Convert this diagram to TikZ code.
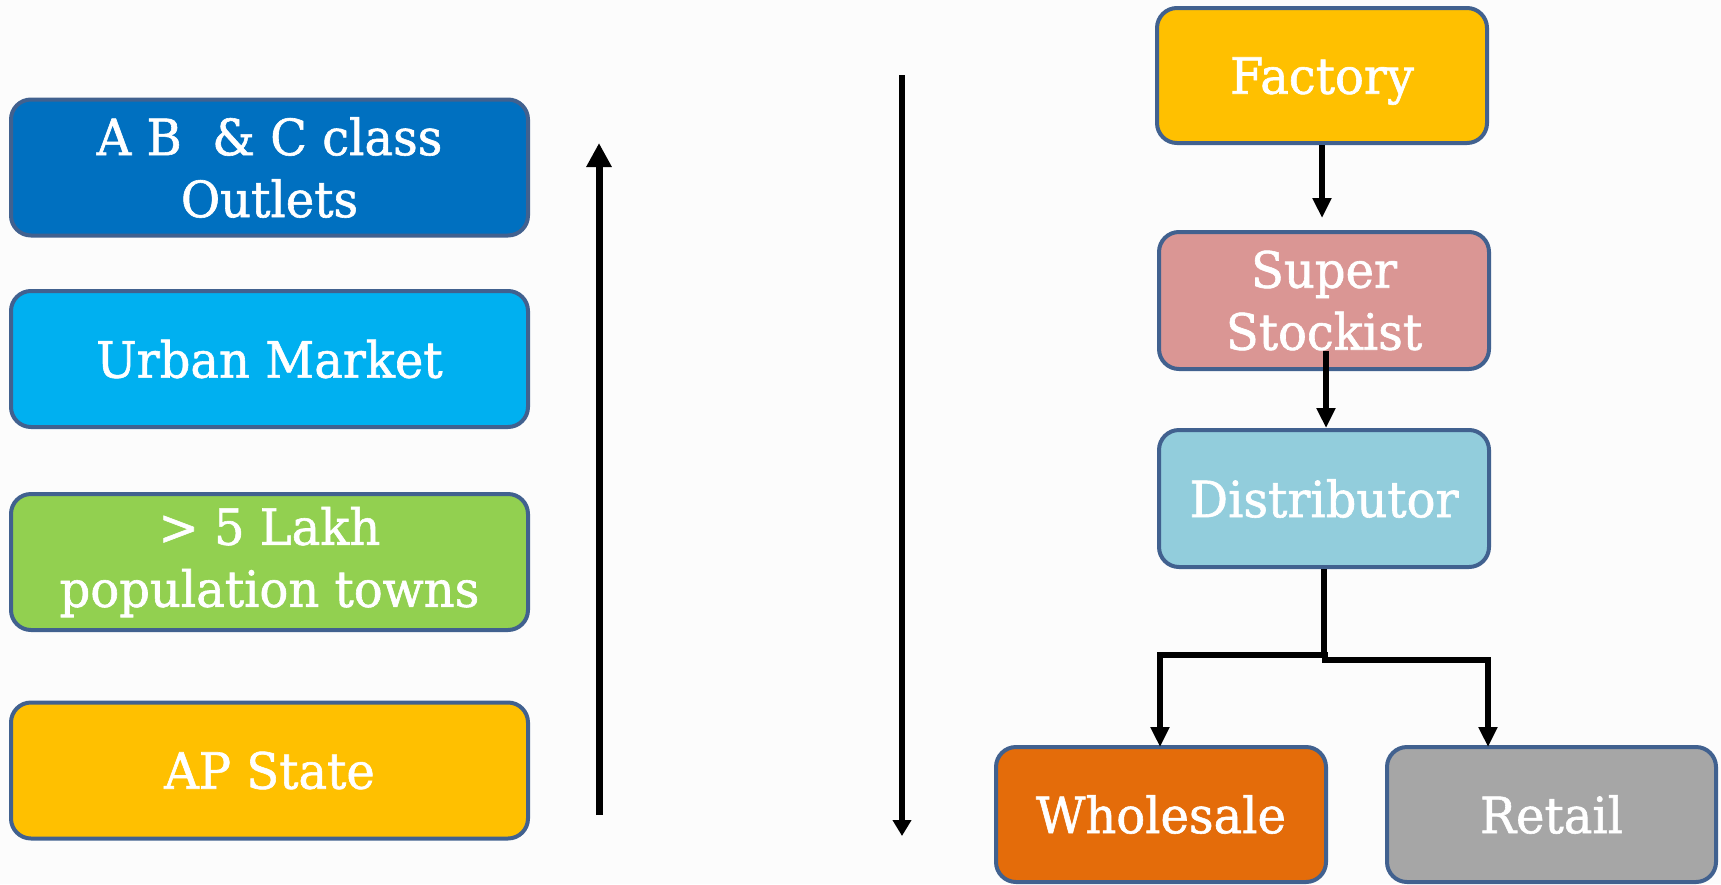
\documentclass[tikz,border=0pt]{standalone}
\usepackage{fontspec}
\setmainfont{DejaVu Serif}[FakeStretch=0.96,FakeBold=1.2]
\usetikzlibrary{arrows.meta}
\definecolor{bgc}{HTML}{FCFCFC}
\definecolor{edge}{HTML}{41618F}
\definecolor{cOutlet}{HTML}{0070C0}
\definecolor{cUrban}{HTML}{00B0F0}
\definecolor{cLakh}{HTML}{92D050}
\definecolor{cGold}{HTML}{FFC000}
\definecolor{cSuper}{HTML}{DA9694}
\definecolor{cDist}{HTML}{92CDDC}
\definecolor{cWhole}{HTML}{E46C0A}
\definecolor{cRetail}{HTML}{A6A6A6}
\tikzset{
  box/.style={draw=edge, line width=4pt, rounded corners=20pt, text=white,
    align=center, inner sep=0pt, minimum width=#1, minimum height=136pt,
    font=\fontsize{50}{62}\selectfont},
  box/.default=517pt,
  flow/.style={line width=6pt, -{Triangle[width=18pt,length=20pt]}},
  bigflow/.style={line width=7pt, -{Triangle[width=24pt,length=24pt]}},
}
\begin{document}
\begin{tikzpicture}[x=1pt,y=-1pt]
  \fill[bgc] (0,0) rectangle (1721,884);
  \useasboundingbox (0,0) rectangle (1721,884);

  % market levels
  \node[box, fill=cOutlet] (outlets) at (269.5,167.5) {A B \ \& C class\\Outlets};
  \node[box, fill=cUrban] (urban) at (269.5,359) {Urban Market};
  \node[box, fill=cLakh] (lakh) at (269.5,562) {> 5 Lakh\\population towns};
  \node[box, fill=cGold] (state) at (269.5,770.5) {AP State};

  % expansion direction
  \coordinate (upfrom) at (599,815);
  \coordinate (upto) at (599,143);
  \draw[bigflow] (upfrom) -- (upto);
  \coordinate (downfrom) at (902,75);
  \coordinate (downto) at (902,836);
  \draw[line width=5.5pt, -{Triangle[width=18pt,length=16pt]}] (downfrom) -- (downto);

  % distribution chain
  \node[box=330pt, fill=cGold, minimum height=135pt, text depth=0pt] (factory) at (1322,75.5) {Factory};
  \node[box=330pt, fill=cSuper, minimum height=137pt] (super) at (1324,300.5) {Super\\Stockist};
  \node[box=330pt, fill=cDist, minimum height=137pt] (dist) at (1324,498.5) {Distributor};
  \node[box=330pt, fill=cWhole, minimum height=135pt] (whole) at (1161,814.5) {Wholesale};
  \node[box=329pt, fill=cRetail, minimum height=135pt] (retail) at (1551.5,814.5) {Retail};

  \draw[flow, shorten >=12pt] (factory.south) -- (factory.south |- super.north);
  \coordinate (ssout) at (1326,351);
  \draw[flow] (ssout) -- (ssout |- dist.north);
  \coordinate (split) at (1325,658);
  \coordinate (splitL) at (1328,655);
  \coordinate (splitR) at (1322,660);
  \coordinate (wholeIn) at (1160,747);
  \coordinate (retailIn) at (1488,747);
  \draw[line width=6.5pt] (dist.south) -- (dist.south |- split);
  \draw[flow] (splitL) -| (wholeIn);
  \draw[flow] (splitR) -| (retailIn);
\end{tikzpicture}
\end{document}
